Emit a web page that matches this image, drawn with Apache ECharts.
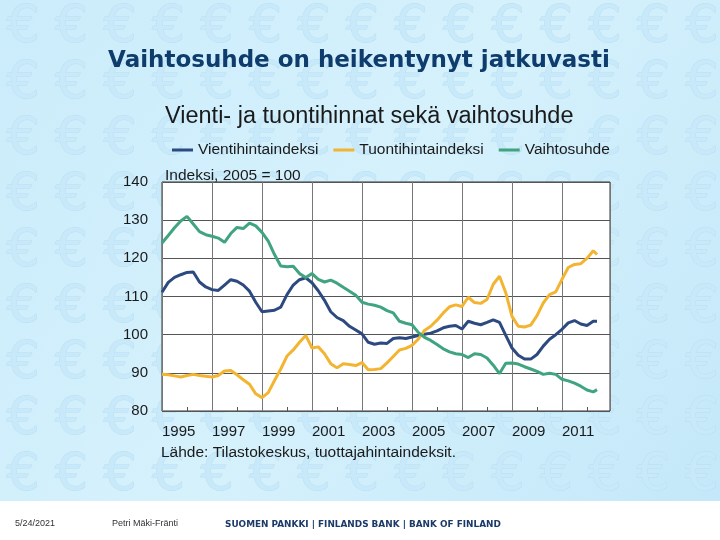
<html>
<head>
    <meta charset="utf-8">
    <title>Vaihtosuhde on heikentynyt jatkuvasti</title>
    <script src="https://cdn.jsdelivr.net/npm/echarts@6/dist/echarts.min.js"></script>
</head>
<body style="margin:0">
<div id="main" style="width: 720px;height:540px;"></div>
<script>
    // neljännesvuodet (vuosi desimaalina)
    var quarters = [1995, 1995.25, 1995.5, 1995.75, 1996, 1996.25, 1996.5, 1996.75,
        1997, 1997.25, 1997.5, 1997.75, 1998, 1998.25, 1998.5, 1998.75,
        1999, 1999.25, 1999.5, 1999.75, 2000, 2000.25, 2000.5, 2000.75,
        2001, 2001.25, 2001.5, 2001.75, 2002, 2002.25, 2002.5, 2002.75,
        2003, 2003.25, 2003.5, 2003.75, 2004, 2004.25, 2004.5, 2004.75,
        2005, 2005.25, 2005.5, 2005.75, 2006, 2006.25, 2006.5, 2006.75,
        2007, 2007.25, 2007.5, 2007.75, 2008, 2008.25, 2008.5, 2008.75,
        2009, 2009.25, 2009.5, 2009.75, 2010, 2010.25, 2010.5, 2010.75,
        2011, 2011.25, 2011.5, 2011.75, 2012, 2012.25, 2012.4];

    var vienti = [111.1, 113.7, 115.0, 115.7, 116.3, 116.4, 113.8, 112.5,
        111.8, 111.6, 113.0, 114.4, 114.0, 113.0, 111.4, 108.5,
        106.0, 106.2, 106.4, 107.2, 110.5, 113.0, 114.4, 114.9,
        113.6, 111.5, 109.0, 106.0, 104.5, 103.7, 102.2, 101.2,
        100.2, 98.0, 97.5, 97.8, 97.7, 99.0, 99.2, 99.0,
        99.4, 99.8, 100.1, 100.4, 101.0, 101.8, 102.2, 102.4,
        101.5, 103.5, 103.0, 102.6, 103.2, 103.9, 103.2, 99.8,
        96.5, 94.6, 93.6, 93.6, 94.8, 97.0, 98.8, 100.0,
        101.4, 103.1, 103.7, 102.8, 102.4, 103.5, 103.5];

    var tuonti = [89.6, 89.5, 89.2, 88.9, 89.3, 89.6, 89.3, 89.1,
        88.9, 89.3, 90.5, 90.6, 89.5, 88.2, 87.0, 84.5,
        83.5, 84.8, 88.0, 91.0, 94.4, 96.0, 98.0, 99.8,
        96.5, 96.8, 95.0, 92.4, 91.3, 92.4, 92.2, 91.9,
        92.7, 90.8, 90.9, 91.1, 92.6, 94.3, 96.0, 96.4,
        97.2, 98.8, 101.1, 102.2, 103.8, 105.7, 107.3, 107.8,
        107.4, 109.8, 108.4, 108.2, 109.2, 113.2, 115.3, 111.0,
        104.8, 102.2, 102.0, 102.5, 105.0, 108.3, 110.5, 111.2,
        114.5, 117.6, 118.4, 118.6, 120.0, 122.0, 121.0];

    var vaihtosuhde = [124.0, 126.0, 128.0, 129.8, 131.0, 129.0, 127.0, 126.2,
        125.8, 125.3, 124.2, 126.5, 128.1, 127.8, 129.2, 128.5,
        126.8, 124.5, 121.0, 118.0, 117.8, 117.9, 116.0, 115.0,
        116.0, 114.5, 113.8, 114.3, 113.5, 112.4, 111.4, 110.3,
        108.5, 108.0, 107.7, 107.2, 106.3, 105.7, 103.5, 103.0,
        102.6, 100.6, 99.3, 98.5, 97.4, 96.3, 95.5, 95.0,
        94.8, 94.0, 95.0, 94.8, 93.9, 92.0, 89.8, 92.5,
        92.6, 92.3, 91.6, 91.0, 90.4, 89.6, 89.9, 89.6,
        88.3, 87.9, 87.3, 86.5, 85.5, 85.0, 85.6];

    var seriesNames = ['Vientihintaindeksi', 'Tuontihintaindeksi', 'Vaihtosuhde'];
    var seriesColors = ['#2d4a80', '#f3b531', '#3fa47f'];
    var seriesValues = [vienti, tuonti, vaihtosuhde];

    function pairs(values) {
        return quarters.map(function (q, i) { return [q, values[i]]; });
    }

    // taustan euro-kuvio
    var graphics = [
        {type: 'rect', z: -100, shape: {x: 0, y: 0, width: 720, height: 501},
            style: {fill: new echarts.graphic.LinearGradient(0, 0, 1, 1, [
                {offset: 0, color: '#cbecfb'}, {offset: 0.5, color: '#d5f1fc'}, {offset: 1, color: '#c4e8f9'}])}},
        {type: 'rect', z: -100, shape: {x: 0, y: 501, width: 720, height: 39}, style: {fill: '#ffffff'}}
    ];
    for (var r = 0; r < 9; r++) {
        for (var c = 0; c < 15; c++) {
            graphics.push({type: 'text', z: -90, x: 23 + c * 48.5, y: 28 + r * 56,
                style: {text: '€', fill: '#c8e9f9', stroke: '#b9def1', lineWidth: 1,
                    font: '52px "DejaVu Sans"', align: 'center', verticalAlign: 'middle'}});
        }
    }
    graphics.push(
        {type: 'text', z: 100, x: 359, y: 61,
            style: {text: 'Vaihtosuhde on heikentynyt jatkuvasti', fill: '#0e3c6c',
                font: 'bold 23px "DejaVu Sans"', align: 'center', verticalAlign: 'middle'}},
        {type: 'text', z: 100, x: 165, y: 117,
            style: {text: 'Vienti- ja tuontihinnat sekä vaihtosuhde', fill: '#1a1a1a',
                font: '23.5px "Liberation Sans"', align: 'left', verticalAlign: 'middle'}},
        {type: 'text', z: 100, x: 165, y: 176,
            style: {text: 'Indeksi, 2005 = 100', fill: '#1a1a1a',
                font: '15.5px "Liberation Sans"', align: 'left', verticalAlign: 'middle'}},
        {type: 'text', z: 100, x: 161, y: 453,
            style: {text: 'Lähde: Tilastokeskus, tuottajahintaindeksit.', fill: '#1a1a1a',
                font: '15.5px "Liberation Sans"', align: 'left', verticalAlign: 'middle'}},
        {type: 'text', z: 100, x: 15, y: 524,
            style: {text: '5/24/2021', fill: '#333', font: '9px "Liberation Sans"', verticalAlign: 'middle'}},
        {type: 'text', z: 100, x: 112, y: 524,
            style: {text: 'Petri Mäki-Fränti', fill: '#333', font: '9px "Liberation Sans"', verticalAlign: 'middle'}},
        {type: 'text', z: 100, x: 225, y: 525,
            style: {text: 'SUOMEN PANKKI | FINLANDS BANK | BANK OF FINLAND', fill: '#1b3a68',
                font: 'bold 8.9px "DejaVu Sans"', verticalAlign: 'middle'}}
    );

    var myChart = echarts.init(document.getElementById('main'));
    myChart.setOption({
        animation: false,
        color: seriesColors,
        textStyle: {fontFamily: 'Liberation Sans'},
        graphic: graphics,
        legend: {
            data: seriesNames,
            left: 167,
            top: 137,
            icon: 'rect',
            itemWidth: 21,
            itemHeight: 3,
            itemGap: 15,
            textStyle: {fontSize: 15.5, color: '#1a1a1a'}
        },
        grid: {
            left: 162, top: 182, right: 110, bottom: 129,
            show: true, backgroundColor: '#ffffff', borderColor: '#333', borderWidth: 1
        },
        xAxis: {
            type: 'value',
            min: 1995,
            max: 2012.92,
            interval: 2,
            axisLine: {show: false},
            axisTick: {show: false, inside: true},
            minorTick: {show: true, splitNumber: 2, length: 4, lineStyle: {color: '#555'}},
            axisLabel: {
                fontSize: 15, color: '#1a1a1a', align: 'left', margin: 13,
                formatter: function (v) {
                    return (Math.abs(v - Math.round(v)) < 1e-6 && Math.round(v) % 2 === 1) ? String(Math.round(v)) : '';
                }
            },
            splitLine: {lineStyle: {color: '#777'}}
        },
        yAxis: {
            type: 'value',
            min: 80,
            max: 140,
            interval: 10,
            axisLine: {show: false},
            axisTick: {show: false},
            axisLabel: {fontSize: 15, color: '#1a1a1a', margin: 14},
            splitLine: {lineStyle: {color: '#555'}}
        },
        series: seriesNames.map(function (name, i) {
            return {
                name: name,
                type: 'line',
                symbol: 'none',
                lineStyle: {width: 3},
                data: pairs(seriesValues[i])
            };
        })
    });
</script>
</body>
</html>
